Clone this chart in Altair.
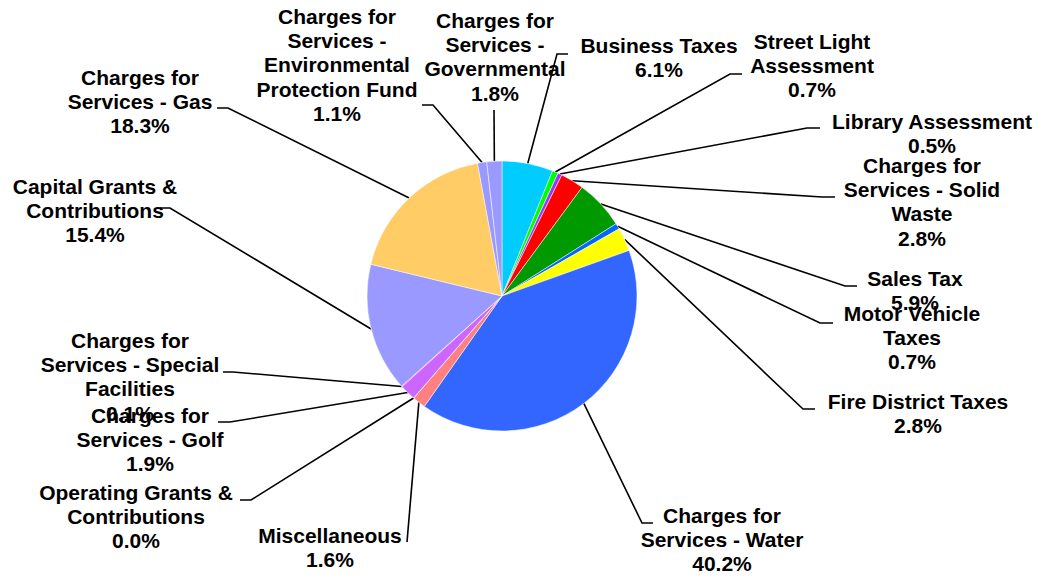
import math
import altair as alt
import pandas as pd

# ---- data (clockwise from 12 o'clock) ----
names = [
    "Business Taxes",
    "Street Light\nAssessment",
    "Library Assessment",
    "Charges for\nServices - Solid\nWaste",
    "Sales Tax",
    "Motor Vehicle\nTaxes",
    "Fire District Taxes",
    "Charges for\nServices - Water",
    "Miscellaneous",
    "Operating Grants &\nContributions",
    "Charges for\nServices - Golf",
    "Charges for\nServices - Special\nFacilities",
    "Capital Grants &\nContributions",
    "Charges for\nServices - Gas",
    "Charges for\nServices -\nEnvironmental\nProtection Fund",
    "Charges for\nServices -\nGovernmental",
]
values = [6.1, 0.7, 0.5, 2.8, 5.9, 0.7, 2.8, 40.2, 1.6, 0.0, 1.9, 0.1, 15.4, 18.3, 1.1, 1.8]
colors = ["#00CCFF", "#00FF00", "#9933FF", "#FF0000", "#009900", "#0066FF", "#FFFF00",
          "#3366FF", "#FF8080", "#808080", "#CC66FF", "#FF00FF", "#9999FF", "#FFCC66",
          "#9999FF", "#9999FF"]

# ---- layout (pixels) ----
CX, CY, R = 502, 296, 135
label_x = [659, 812, 932, 922, 915, 912, 918, 722, 330, 136, 150, 130, 95, 140, 337, 495]
label_y = [47, 43, 123, 167, 280, 315, 403, 517, 537, 494, 417, 342, 188, 79, 18, 22]  # first line centre
elbow_x = [557, 730, 807, 822, 845, 820, 803, 642, 407, 251, 230, 233, 170, 228, 433, 494]
elbow_y = [54, 74, 128, 197, 286, 323, 409, 523, 542, 500, 422, 372, 208, 108, 105, 110]
end_x = [568, 742, 820, 835, 857, 833, 815, 653, 407, 240, 218, 223, 160, 217, 422, 494]
end_y = [54, 74, 128, 197, 286, 323, 409, 523, 542, 500, 422, 372, 208, 108, 105, 110]

total = sum(values)
pie_df = pd.DataFrame({"name": names, "value": values, "idx": list(range(len(names)))})

# leader lines: pie edge at slice mid-angle -> elbow -> end
rows = []
cum = 0.0
for i, v in enumerate(values):
    mid = (cum + v / 2) / total * 2 * math.pi
    cum += v
    ex = CX + R * math.sin(mid)
    ey = CY - R * math.cos(mid)
    rows.append({"name": names[i], "seq": 0, "px": ex, "py": ey})
    rows.append({"name": names[i], "seq": 1, "px": elbow_x[i], "py": elbow_y[i]})
    rows.append({"name": names[i], "seq": 2, "px": end_x[i], "py": end_y[i]})
line_df = pd.DataFrame(rows)

lab_df = pd.DataFrame({
    "label": [f"{n}\n{v:.1f}%" for n, v in zip(names, values)],
    "lx": label_x,
    "ly": label_y,
})

pie = alt.Chart(pie_df).mark_arc(radius=R, stroke="white", strokeWidth=0.5).encode(
    theta=alt.Theta("value:Q", stack=True),
    order=alt.Order("idx:Q"),
    color=alt.Color("name:N", scale=alt.Scale(domain=names, range=colors), legend=None),
    x=alt.value(CX),
    y=alt.value(CY),
)

leaders = alt.Chart(line_df).mark_line(color="black", strokeWidth=1.6).encode(
    x=alt.X("px:Q", scale=None, axis=None),
    y=alt.Y("py:Q", scale=None, axis=None),
    detail="name:N",
    order="seq:Q",
)

labels = alt.Chart(lab_df).mark_text(
    font="Liberation Sans", fontSize=21, fontWeight="bold", color="black",
    align="center", baseline="middle", lineBreak="\n", lineHeight=24.2,
).encode(
    x=alt.X("lx:Q", scale=None, axis=None),
    y=alt.Y("ly:Q", scale=None, axis=None),
    text="label:N",
)

chart = alt.layer(leaders, pie, labels).properties(
    width=1039, height=578, autosize=alt.AutoSizeParams(type="none"), padding=0,
    background="white",
).configure_view(stroke=None)

chart.save("out.html", embed_options={"renderer": "svg", "actions": False})
